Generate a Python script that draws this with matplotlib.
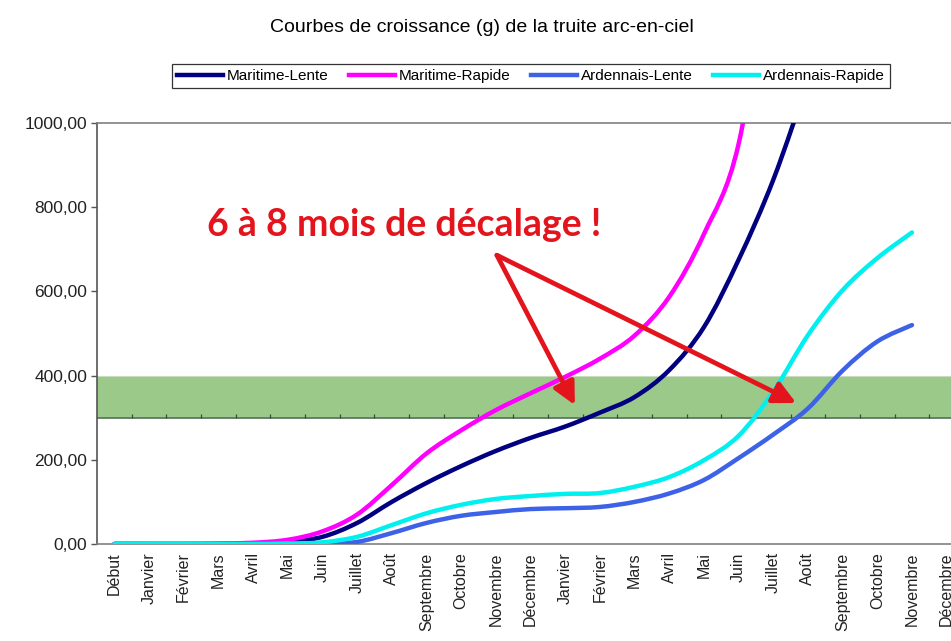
import numpy as np
import matplotlib
matplotlib.use('Agg')
import matplotlib.pyplot as plt
from matplotlib.path import Path
from matplotlib.patches import PathPatch
from matplotlib.lines import Line2D

nan = np.nan

mois = ['Début', 'Janvier', 'Février', 'Mars', 'Avril', 'Mai', 'Juin', 'Juillet',
        'Août', 'Septembre', 'Octobre', 'Novembre', 'Décembre', 'Janvier', 'Février',
        'Mars', 'Avril', 'Mai', 'Juin', 'Juillet', 'Août', 'Septembre', 'Octobre',
        'Novembre', 'Décembre']

# poids (g)
maritime_lente = [0, 0, 0, 0, 1, 5, 17, 50, 100, 145, 185, 221, 252, 279, 312, 349,
                  413, 515, 675, 865, 1100, nan, nan, nan, nan]
maritime_rapide = [0, 0, 0, 1, 3, 10, 30, 70, 140, 215, 270, 318, 358, 397, 440, 495,
                   587, 736, 950, 1450, nan, nan, nan, nan, nan]
ardennais_lente = [0, 0, 0, 0, 0, 0, 1, 5, 26, 50, 67, 76, 83, 85, 88, 100,
                   120, 152, 204, 260, 322, 412, 481, 520, nan]
ardennais_rapide = [0, 0, 0, 0, 0, 1, 4, 17, 45, 73, 93, 107, 114, 119, 121, 136,
                    159, 199, 257, 362, 496, 603, 679, 740, nan]

series = [('Maritime-Lente', maritime_lente, '#000080'),
          ('Maritime-Rapide', maritime_rapide, '#ff00ff'),
          ('Ardennais-Lente', ardennais_lente, '#3d62e8'),
          ('Ardennais-Rapide', ardennais_rapide, '#00f0f0')]

y_ticks = [0, 200, 400, 600, 800, 1000]
bande = (300, 400)
rouge = '#e3141c'


def smooth_path(xs, ys):
    # courbe lissée façon Excel (Catmull-Rom -> Bézier)
    pts = np.column_stack([xs, ys]).astype(float)
    pts = pts[~np.isnan(pts[:, 1])]
    n = len(pts)
    verts = [pts[0]]
    codes = [Path.MOVETO]
    for i in range(n - 1):
        p0 = pts[max(i - 1, 0)]
        p1 = pts[i]
        p2 = pts[i + 1]
        p3 = pts[min(i + 2, n - 1)]
        verts += [p1 + (p2 - p0) / 6, p2 - (p3 - p1) / 6, p2]
        codes += [Path.CURVE4] * 3
    return Path(verts, codes)


fig = plt.figure(figsize=(9.51, 6.41), dpi=100)
ax = fig.add_axes([97 / 951, 97 / 641, 867 / 951, 421 / 641])

x = np.arange(len(mois))

# bande verte
ax.axhspan(bande[0], bande[1], color='#9bc98a', zorder=1, lw=0)
ax.axhline(bande[0], color='#55705a', lw=1.2, zorder=1.5)
ax.axhline(bande[1], color='#c9dcc0', lw=0.8, zorder=1.5)
ax.vlines(x[:-1] + 0.5, bande[0], bande[0] + 8, color='#3c4a3c', lw=0.9, zorder=1.5)

for nom, vals, c in series:
    ax.add_patch(PathPatch(smooth_path(x, vals), facecolor='none', edgecolor=c,
                           lw=3.2, capstyle='round', joinstyle='round', zorder=3))

# flèches
queue = (11.03, 686)
for tete in [(13.28, 330), (19.66, 335)]:
    ax.annotate('', xy=tete, xytext=queue, zorder=4,
                arrowprops=dict(arrowstyle='-|>,head_length=0.9,head_width=0.45',
                                color=rouge, lw=3.4, mutation_scale=15,
                                shrinkA=0, shrinkB=0))

ax.text(8.35, 758, '6 à 8 mois de décalage !', color=rouge, fontsize=27,
        fontweight='bold', family='Lato', ha='center', va='center', zorder=5)

ax.set_xlim(-0.5, len(mois) - 0.5)
ax.set_ylim(0, 1000)
ax.set_xticks(x)
ax.set_xticklabels(mois, rotation=90, fontsize=11.5, family='Liberation Sans',
                   color='#222222')
ax.tick_params(axis='x', length=0, pad=6)
ax.set_yticks(y_ticks)
ax.set_yticklabels([f'{v:.2f}'.replace('.', ',') for v in y_ticks],
                   fontsize=12.5, family='Liberation Sans', color='#222222')
ax.tick_params(axis='y', length=4, width=1, color='#555555', pad=3)
for s in ['left', 'top', 'bottom', 'right']:
    ax.spines[s].set_color('#808080')
    ax.spines[s].set_linewidth(1.2)
ax.spines['left'].set_color('#555555')

fig.text(482 / 951, 1 - 27 / 641, 'Courbes de croissance (g) de la truite arc-en-ciel',
         ha='center', va='center', fontsize=14, family='Liberation Sans')

handles = [Line2D([], [], color=c, lw=3.2) for _, _, c in series]
leg = fig.legend(handles, [s[0] for s in series], ncol=4, loc='center',
                 bbox_to_anchor=(531 / 951, 1 - 76 / 641), frameon=True, fancybox=False,
                 edgecolor='black', handlelength=3.0, columnspacing=1.35, handletextpad=0.25,
                 borderpad=0.35, prop={'family': 'Liberation Sans', 'size': 11})
leg.get_frame().set_linewidth(0.9)

fig.savefig('out.png', dpi=100)
